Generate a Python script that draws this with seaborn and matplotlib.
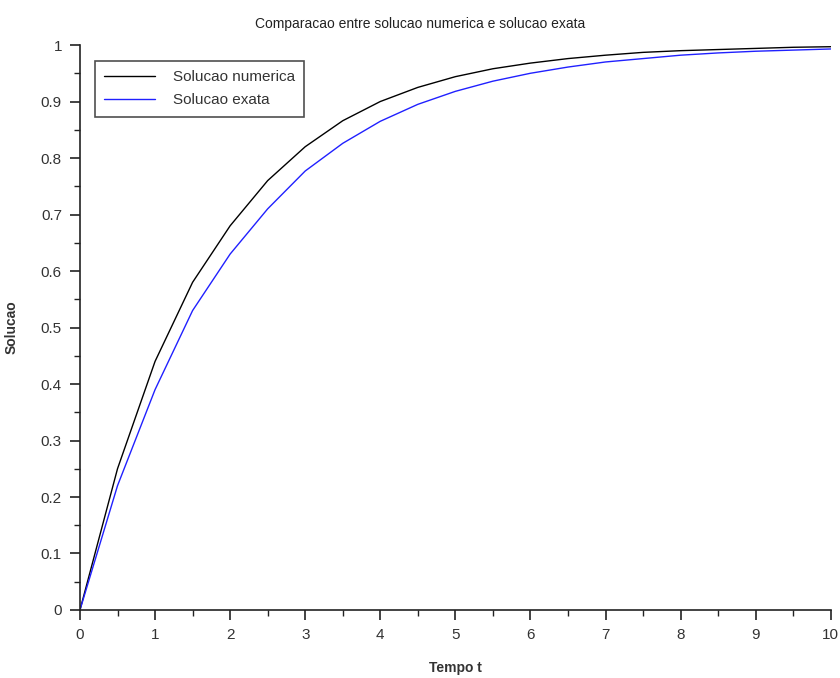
import numpy as np
import pandas as pd
import matplotlib
matplotlib.use("Agg")
import matplotlib.pyplot as plt
import seaborn as sns
from matplotlib.ticker import MultipleLocator

t = [0, 0.5, 1, 1.5, 2, 2.5, 3, 3.5, 4, 4.5, 5, 5.5, 6, 6.5, 7, 7.5, 8, 8.5, 9, 9.5, 10]
numerica = [0, 0.25, 0.44, 0.58, 0.68, 0.76, 0.82, 0.866, 0.90, 0.925, 0.944, 0.958,
            0.968, 0.976, 0.982, 0.987, 0.990, 0.992, 0.994, 0.996, 0.997]
exata = [0, 0.22, 0.39, 0.53, 0.63, 0.71, 0.777, 0.826, 0.865, 0.895, 0.918, 0.936,
         0.950, 0.961, 0.970, 0.976, 0.982, 0.986, 0.989, 0.991, 0.993]
xticks = [0, 1, 2, 3, 4, 5, 6, 7, 8, 9, 10]
yticks = [0, 0.1, 0.2, 0.3, 0.4, 0.5, 0.6, 0.7, 0.8, 0.9, 1]
ytick_labels = ["0", "0.1", "0.2", "0.3", "0.4", "0.5", "0.6", "0.7", "0.8", "0.9", "1"]

labels = ["Solucao numerica", "Solucao exata"]
df = pd.DataFrame({
    "t": t * 2,
    "y": numerica + exata,
    "serie": [labels[0]] * len(t) + [labels[1]] * len(t),
})

sns.set_theme(style="white")
plt.rcParams['font.family'] = ['Liberation Sans', 'DejaVu Sans']
txt = "#333333"

fig = plt.figure(figsize=(8.4, 6.78), dpi=100)
ax = fig.add_axes([0.0952, 0.1003, 0.8938, 0.8333])
sns.lineplot(data=df, x="t", y="y", hue="serie", palette=["#000000", "#2020ff"],
             linewidth=1.0, ax=ax, legend=True)

ax.set_xlim(0, 10)
ax.set_ylim(0, 1)
ax.set_xticks(xticks)
ax.set_xticklabels([str(v) for v in xticks])
ax.set_yticks(yticks)
ax.set_yticklabels(ytick_labels)
ax.xaxis.set_minor_locator(MultipleLocator(0.5))
ax.yaxis.set_minor_locator(MultipleLocator(0.05))

for s in ["top", "right"]:
    ax.spines[s].set_visible(False)
for s in ["left", "bottom"]:
    ax.spines[s].set_color("#222222")
    ax.spines[s].set_linewidth(1.2)
ax.tick_params(which="major", direction="out", length=7, width=1.2, color="#222222",
               labelsize=11, labelcolor=txt, pad=6, left=True, bottom=True)
ax.tick_params(which="minor", direction="out", length=4, width=1.0, color="#222222",
               left=True, bottom=True)

ax.set_xlabel("Tempo t", fontsize=10, fontweight="bold", color=txt, labelpad=14)
ax.set_ylabel("Solucao", fontsize=10, fontweight="bold", color=txt, labelpad=16)
fig.suptitle("Comparacao entre solucao numerica e solucao exata", fontsize=10,
             color="#222222", y=0.975)

leg = ax.legend(loc="upper left", bbox_to_anchor=(0.01, 0.985), fontsize=11,
                frameon=True, fancybox=False, edgecolor="#222222",
                handlelength=3.3, borderpad=0.6, labelspacing=0.6,
                handletextpad=1.2)
leg.get_frame().set_linewidth(1.2)
for text in leg.get_texts():
    text.set_color(txt)

fig.savefig("out.png", dpi=100)
